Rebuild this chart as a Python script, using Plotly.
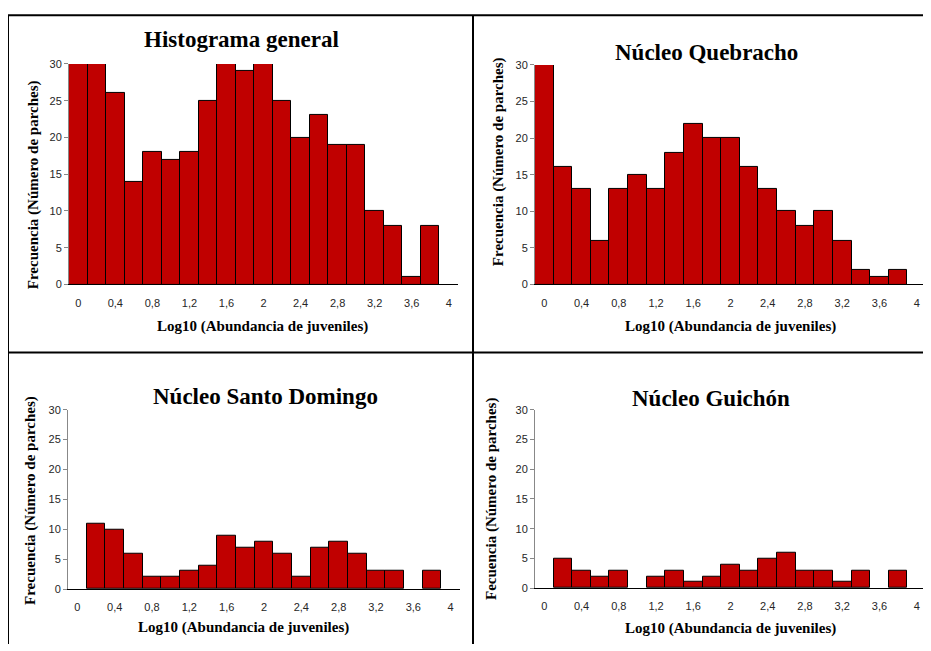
import plotly.graph_objects as go

W, H = 931, 651
# measured from earlier renders: the page shifts the plot div right by the
# body margin, and the photographed page comes out slightly squeezed
# vertically, so reference pixels are mapped through these factors
PAGE_LEFT, PAGE_RIGHT = 8, 8
PAGE_TOP = 14.5
SCALE_Y = 0.979
FIG_W, FIG_H = W - PAGE_LEFT - PAGE_RIGHT, 642

# bin centres (Log10 abundancia) and frecuencias per panel
bin_centres = [0.0, 0.2, 0.4, 0.6, 0.8, 1.0, 1.2, 1.4, 1.6, 1.8,
               2.0, 2.2, 2.4, 2.6, 2.8, 3.0, 3.2, 3.4, 3.6, 3.8]
freq_general = [30, 30, 26, 14, 18, 17, 18, 25, 30, 29,
                30, 25, 20, 23, 19, 19, 10, 8, 1, 8]
freq_quebracho = [30, 16, 13, 6, 13, 15, 13, 18, 22, 20,
                  20, 16, 13, 10, 8, 10, 6, 2, 1, 2]
freq_santo_domingo = [0, 11, 10, 6, 2, 2, 3, 4, 9, 7,
                      8, 6, 2, 7, 8, 6, 3, 3, 0, 3]
freq_guichon = [0, 5, 3, 2, 3, 0, 2, 3, 1, 2,
                4, 3, 5, 6, 3, 3, 1, 3, 0, 3]

x_tickvals = [0, 0.4, 0.8, 1.2, 1.6, 2.0, 2.4, 2.8, 3.2, 3.6, 4.0]
x_ticktext = ["0", "0,4", "0,8", "1,2", "1,6", "2", "2,4", "2,8", "3,2", "3,6", "4"]
y_tickvals = [0, 5, 10, 15, 20, 25, 30]
X_LO, X_HI = -0.1, 4.1

titles = ["Histograma general", "Núcleo Quebracho", "Núcleo Santo Domingo", "Núcleo Guichón"]
y_titles = ["Frecuencia (Número de parches)", "Frecuencia (Número de parches)",
            "Frecuencia (Número de parches)", "Fecuencia (Número de parches)"]
x_title = "Log10 (Abundancia de juveniles)"
series = [freq_general, freq_quebracho, freq_santo_domingo, freq_guichon]

# plot areas in reference pixels: (left, right, top, bottom)
boxes = [(69, 458, 64, 284), (535, 926, 65, 284),
         (68, 460, 409, 588), (535, 926, 409, 587)]
# title / axis title centres in reference pixels
title_pos = [(241, 40), (706, 53), (265, 396), (711, 398)]
xtitle_pos = [(263, 326), (730, 326), (243, 626), (730, 627)]
ytitle_pos = [(33, 185), (498, 162), (31, 500), (492, 498)]

BAR_RED = "#C00000"
SERIF = "Liberation Serif"
TICK_FONT = dict(family="Liberation Sans", size=11, color="#262626")


def px(x):
    return (x - PAGE_LEFT) / FIG_W


def py(y):
    fig_y = y / SCALE_Y - PAGE_TOP
    return min(1.0, max(0.0, 1 - fig_y / FIG_H))


fig = go.Figure()
annotations = []
right_limit = W - PAGE_RIGHT

for i, vals in enumerate(series):
    n = "" if i == 0 else str(i + 1)
    # empty bins get no outline, like the original spreadsheet chart
    outline = [1 if v > 0 else 0 for v in vals]
    fig.add_trace(go.Bar(
        x=bin_centres, y=vals, width=0.2,
        marker=dict(color=BAR_RED, line=dict(color="black", width=outline)),
        xaxis="x" + n, yaxis="y" + n, showlegend=False,
    ))
    l, r, t, b = boxes[i]
    # panels touching the page edge get their axis trimmed, keeping the scale
    r_vis = min(r, right_limit)
    x_hi = X_LO + (X_HI - X_LO) * (r_vis - l) / (r - l)
    fig.update_layout(**{
        "xaxis" + n: dict(
            domain=[px(l), px(r_vis)], range=[X_LO, x_hi], anchor="y" + n,
            tickvals=x_tickvals, ticktext=x_ticktext, ticks="",
            showline=True, linecolor="black", linewidth=1,
            showgrid=False, zeroline=False, tickfont=TICK_FONT, ticklabelstandoff=8,
        ),
        "yaxis" + n: dict(
            domain=[py(b), py(t)], range=[0, 30], anchor="x" + n,
            tickvals=y_tickvals, ticks="outside", ticklen=4, tickcolor="#888888",
            showline=True, linecolor="#888888", linewidth=1,
            showgrid=False, zeroline=False, tickfont=TICK_FONT,
        ),
    })
    common = dict(xref="paper", yref="paper", showarrow=False,
                  xanchor="center", yanchor="middle")
    annotations.append(dict(
        text=f"<b>{titles[i]}</b>", x=px(title_pos[i][0]), y=py(title_pos[i][1]),
        font=dict(family=SERIF, size=23, color="black"), **common,
    ))
    annotations.append(dict(
        text=f"<b>{x_title}</b>", x=px(xtitle_pos[i][0]), y=py(xtitle_pos[i][1]),
        font=dict(family=SERIF, size=15, color="black"), **common,
    ))
    annotations.append(dict(
        text=f"<b>{y_titles[i]}</b>", x=px(ytitle_pos[i][0]), y=py(ytitle_pos[i][1]),
        textangle=-90, font=dict(family=SERIF, size=15, color="black"), **common,
    ))

# panel frame lines; ones outside the figure are clamped onto its edges
frame = [(8, 0, right_limit, 0), (8, 0, 8, H),
         (473, 0, 473, H), (8, 352, right_limit, 352)]
shapes = [dict(type="line", xref="paper", yref="paper",
               x0=px(a), y0=min(py(b), 0.998), x1=px(c), y1=min(py(d), 0.998),
               line=dict(color="black", width=2)) for a, b, c, d in frame]

fig.update_layout(
    width=FIG_W, height=FIG_H, margin=dict(l=0, r=0, t=0, b=0),
    paper_bgcolor="white", plot_bgcolor="white",
    bargap=0, annotations=annotations, shapes=shapes,
)

fig.write_html("out.html")
